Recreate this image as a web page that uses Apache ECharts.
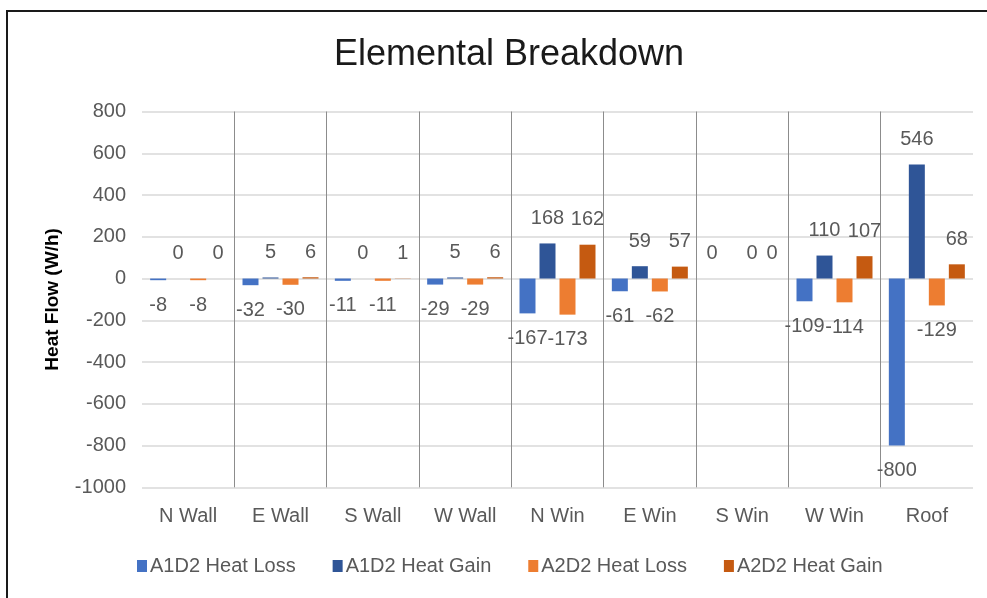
<!DOCTYPE html>
<html>
<head>
<meta charset="utf-8">
<title>Elemental Breakdown</title>
<script src="https://cdn.jsdelivr.net/npm/echarts@6/dist/echarts.min.js"></script>
<style>
  html, body { margin: 0; padding: 0; background: #fff; }
  #chart { width: 987px; height: 598px; }
</style>
</head>
<body>
<div id="chart"></div>
<script>
// categories and series values
const categories = ['N Wall', 'E Wall', 'S Wall', 'W Wall', 'N Win', 'E Win', 'S Win', 'W Win', 'Roof']
const a1d2Loss = [-8, -32, -11, -29, -167, -61, 0, -109, -800]
const a1d2Gain = [0, 5, 0, 5, 168, 59, null, 110, 546]
const a2d2Loss = [-8, -30, -11, -29, -173, -62, 0, -114, -129]
const a2d2Gain = [0, 6, 1, 6, 162, 57, 0, 107, 68]
const yTicks = [-1000, -800, -600, -400, -200, 0, 200, 400, 600, 800]

const fontName = 'Liberation Sans, Arial, sans-serif'
const labelColor = '#595959'

// label goes above positive bars and below negative ones, like excel's "outside end"
function withLabels(values) {
  return values.map(v => {
    if (v === null) return null
    return {
      value: v,
      label: { position: v >= 0 ? 'top' : 'bottom' }
    }
  })
}

function makeSeries(name, values, color) {
  return {
    name: name,
    type: 'bar',
    barWidth: 16,
    barGap: '25%',
    itemStyle: { color: color },
    label: {
      show: true,
      distance: 15,
      color: labelColor,
      fontSize: 20,
      fontFamily: fontName
    },
    data: withLabels(values)
  }
}

const chart = echarts.init(document.getElementById('chart'), null, { renderer: 'canvas' })
chart.setOption({
  animation: false,
  backgroundColor: '#fff',
  title: {
    text: 'Elemental Breakdown',
    left: 504,
    textAlign: 'center',
    top: 32,
    textStyle: {
      fontFamily: fontName,
      fontSize: 36,
      fontWeight: 'normal',
      color: '#1a1a1a'
    }
  },
  legend: {
    left: 132,
    top: 551,
    itemWidth: 10,
    itemHeight: 12,
    itemGap: 37,
    icon: 'rect',
    textStyle: {
      fontFamily: fontName,
      fontSize: 20,
      color: labelColor,
      padding: [0, 0, 0, -2]
    },
    data: ['A1D2 Heat Loss', 'A1D2 Heat Gain', 'A2D2 Heat Loss', 'A2D2 Heat Gain']
  },
  grid: {
    left: 142,
    right: 14,
    top: 111.5,
    bottom: 110.7
  },
  xAxis: {
    type: 'category',
    data: categories,
    axisLine: { show: false },
    axisTick: { show: false },
    axisLabel: {
      margin: 19,
      fontSize: 20,
      fontFamily: fontName,
      color: labelColor
    },
    splitLine: {
      show: true,
      showMinLine: false,
      showMaxLine: false,
      lineStyle: { color: '#8c8c8c', width: 1 }
    }
  },
  yAxis: {
    type: 'value',
    min: yTicks[0],
    max: yTicks[yTicks.length - 1],
    interval: 200,
    name: 'Heat Flow (W/h)',
    nameLocation: 'middle',
    nameGap: 80,
    nameTextStyle: {
      fontFamily: fontName,
      fontSize: 19,
      fontWeight: 'bold',
      color: '#000'
    },
    axisLine: { show: false },
    axisTick: { show: false },
    axisLabel: {
      margin: 16,
      fontSize: 20,
      fontFamily: fontName,
      color: labelColor,
      formatter: v => String(v)
    },
    splitLine: {
      lineStyle: { color: '#d9d9d9', width: 1.5 }
    }
  },
  // outer frame of the chart box, cut off on the right and bottom
  graphic: [{
    type: 'rect',
    shape: { x: 7, y: 11, width: 1000, height: 620 },
    style: { fill: null, stroke: '#1a1a1a', lineWidth: 2 },
    silent: true
  }],
  series: [
    makeSeries('A1D2 Heat Loss', a1d2Loss, '#4472C4'),
    makeSeries('A1D2 Heat Gain', a1d2Gain, '#2F5597'),
    makeSeries('A2D2 Heat Loss', a2d2Loss, '#ED7D31'),
    makeSeries('A2D2 Heat Gain', a2d2Gain, '#C55A11')
  ]
})
</script>
</body>
</html>
